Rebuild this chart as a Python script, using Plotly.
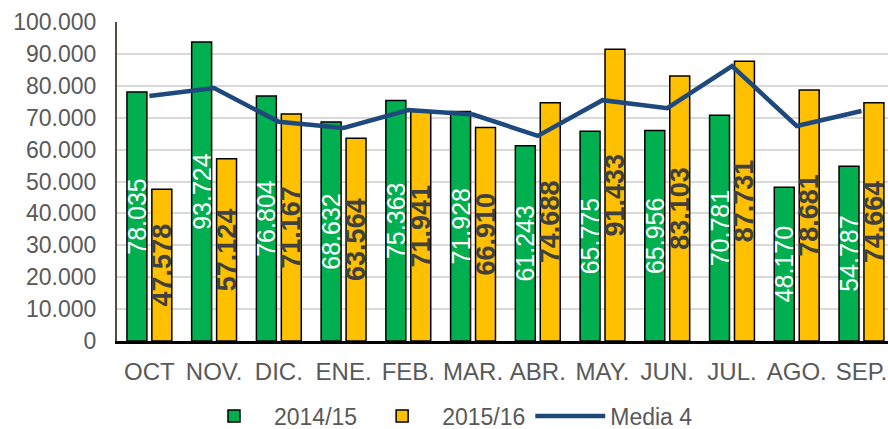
import plotly.graph_objects as go

months = ["OCT", "NOV.", "DIC.", "ENE.", "FEB.", "MAR.", "ABR.", "MAY.", "JUN.", "JUL.", "AGO.", "SEP."]
s2014 = [78035, 93724, 76804, 68632, 75363, 71928, 61243, 65775, 65956, 70781, 48170, 54787]
s2015 = [47578, 57124, 71167, 63564, 71941, 66910, 74688, 91433, 83103, 87731, 78681, 74664]
media4 = [76800, 79300, 68700, 66800, 72400, 71000, 64300, 75500, 73000, 86200, 67400, 72100]

FONT = "Liberation Sans, Arial, sans-serif"

fig = go.Figure()
fig.add_trace(go.Bar(
    x=months, y=s2014, name="2014/15",
    marker=dict(color="#00B050", line=dict(color="#000000", width=1.5)),
    texttemplate="%{y:,.0f}", textposition="inside", insidetextanchor="middle",
    textangle=-90, constraintext="none",
    insidetextfont=dict(family=FONT, size=25, color="#FFFFFF"),
))
fig.add_trace(go.Bar(
    x=months, y=s2015, name="2015/16",
    marker=dict(color="#FFC000", line=dict(color="#000000", width=1.5)),
    texttemplate="<b>%{y:,.0f}</b>", textposition="inside", insidetextanchor="middle",
    textangle=-90, constraintext="none",
    insidetextfont=dict(family=FONT, size=27, color="#404040"),
))
fig.add_trace(go.Scatter(
    x=months, y=media4, name="Media 4", mode="lines",
    line=dict(color="#1F497D", width=4.5),
))

fig.update_layout(
    width=888, height=429,
    margin=dict(l=117, r=0, t=22, b=88, autoexpand=False),
    paper_bgcolor="white", plot_bgcolor="white",
    separators=",.",
    barmode="group", bargap=0.23, bargroupgap=0.2,
    font=dict(family=FONT, size=23, color="#595959"),
    showlegend=True,
    legend=dict(orientation="h", x=0.4267, xanchor="center", y=-0.235, yanchor="middle",
                font=dict(family=FONT, size=23, color="#595959"), itemwidth=70,
                traceorder="normal"),
    xaxis=dict(range=[-0.5, 11.41], showline=True, linecolor="#000000", linewidth=2.5,
               tickfont=dict(family=FONT, size=24, color="#595959"), ticks="",
               ticklabelstandoff=7, showgrid=False, automargin=False),
    yaxis=dict(range=[0, 100000], dtick=10000, tickformat=",d", showline=True,
               linecolor="#594A3E", linewidth=2, gridcolor="#D9D9D9", gridwidth=2,
               tickfont=dict(family=FONT, size=23, color="#595959"), ticks="",
               ticklabelstandoff=14, zeroline=False, automargin=False),
)

fig.write_html(
    "out.html",
    config={"displayModeBar": False},
    post_script="document.body.style.margin='0';document.body.style.overflow='hidden';",
)
